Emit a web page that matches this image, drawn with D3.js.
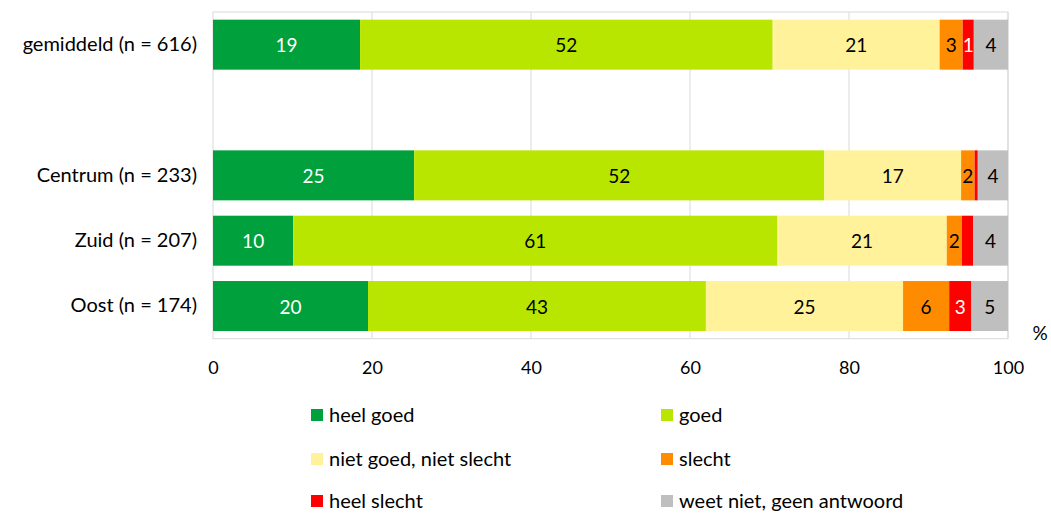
<!DOCTYPE html>
<html><head><meta charset="utf-8">
<script src="https://cdn.jsdelivr.net/npm/d3@7"></script>
<style>
html,body{margin:0;padding:0;background:#fff;}
svg{display:block;font-family:Lato, "Open Sans", sans-serif;}
</style></head>
<body><svg id="c" width="1051" height="513"></svg>
<script>
const categories = ["gemiddeld (n = 616)", "", "Centrum (n = 233)", "Zuid (n = 207)", "Oost (n = 174)"];
const seriesNames = ["heel goed", "goed", "niet goed, niet slecht", "slecht", "heel slecht", "weet niet, geen antwoord"];
const seriesColors = ["#00a03c", "#b8e600", "#fff29a", "#ff8c00", "#ff0000", "#bfbfbf"];
const labelColors = ["#ffffff", "#000000", "#000000", "#000000", "#ffffff", "#000000"];
// values per category (empty category = spacer)
const heelGoed   = [18.5, null, 25.3, 10.1, 19.5];
const goed       = [51.9, null, 51.6, 60.9, 42.5];
const nietGoed   = [21.0, null, 17.2, 21.3, 24.8];
const slecht     = [2.9,  null, 1.7,  1.9,  5.8];
const heelSlecht = [1.4,  null, 0.4,  1.4,  2.8];
const weetNiet   = [4.3,  null, 3.8,  4.4,  4.6];
const valueLabels = [
  ["19","52","21","3","1","4"],
  null,
  ["25","52","17","2","","4"],
  ["10","61","21","2","","4"],
  ["20","43","25","6","3","5"]
];
const xTicks = [0, 20, 40, 60, 80, 100];

(function () {
const seriesVals = [heelGoed, goed, nietGoed, slecht, heelSlecht, weetNiet];
const svg = d3.select("#c");
const pl = 213, pr = 1008, pt = 12, pb = 338.7;
const x = d3.scaleLinear().domain([0, 100]).range([pl, pr]);
const y = d3.scaleBand().domain(categories.map((c, i) => i)).range([pt, pb]).paddingInner(0.235).paddingOuter(0.1175);

// gridlines
svg.append("g").selectAll("line").data(xTicks.filter(t => t > 0)).join("line")
  .attr("x1", d => x(d)).attr("x2", d => x(d)).attr("y1", pt).attr("y2", pb)
  .attr("stroke", "#d9d9d9").attr("stroke-width", 1);
// plot border
svg.append("rect").attr("x", pl).attr("y", pt).attr("width", pr - pl).attr("height", pb - pt)
  .attr("fill", "none").attr("stroke", "#d9d9d9").attr("stroke-width", 1);

// stacked bars
const rows = categories.map((c, i) => {
  if (heelGoed[i] == null) return null;
  let acc = 0;
  return seriesVals.map((s, k) => { const v = s[i]; const seg = {i, k, x0: acc, x1: acc + v, label: valueLabels[i][k]}; acc += v; return seg; });
}).filter(r => r);
const segs = rows.flat();
const g = svg.append("g");
g.selectAll("rect").data(segs).join("rect")
  .attr("x", d => x(d.x0)).attr("width", d => x(d.x1) - x(d.x0))
  .attr("y", d => y(d.i)).attr("height", y.bandwidth())
  .attr("fill", d => seriesColors[d.k]);
g.selectAll("text").data(segs.filter(d => d.label)).join("text")
  .attr("x", d => (x(d.x0) + x(d.x1)) / 2).attr("y", d => y(d.i) + y.bandwidth() / 2 + 1)
  .attr("dy", "0.35em").attr("text-anchor", "middle")
  .attr("font-size", 19).attr("fill", d => labelColors[d.k]).text(d => d.label);

// y axis labels
const yAxis = d3.axisLeft(y).tickSize(0).tickPadding(16).tickFormat(i => categories[i]);
const ya = svg.append("g").attr("transform", `translate(${pl},0)`).call(yAxis);
ya.select(".domain").remove();
ya.selectAll("text").attr("font-size", 20).attr("font-family", "Lato, 'Open Sans', sans-serif").attr("fill", "#000");

// x axis
const xAxis = d3.axisBottom(x).tickValues(xTicks).tickSize(0).tickPadding(23);
const xa = svg.append("g").attr("transform", `translate(0,${pb})`).call(xAxis);
xa.select(".domain").remove();
xa.selectAll("text").attr("font-size", 18).attr("font-family", "Lato, 'Open Sans', sans-serif").attr("fill", "#000");

svg.append("text").attr("x", 1040).attr("y", 333).attr("dy", "0.35em").attr("text-anchor", "middle")
  .attr("font-size", 19).text("%");

// legend
const legX = [311, 661], legY = [415, 459, 501];
const leg = svg.append("g").selectAll("g").data(seriesNames).join("g")
  .attr("transform", (d, i) => `translate(${legX[i % 2]},${legY[Math.floor(i / 2)]})`);
leg.append("rect").attr("x", 0).attr("y", -6).attr("width", 12).attr("height", 12).attr("fill", (d, i) => seriesColors[i]);
leg.append("text").attr("x", 18).attr("dy", "0.35em").attr("font-size", 20).text(d => d);
})();
</script></body></html>
